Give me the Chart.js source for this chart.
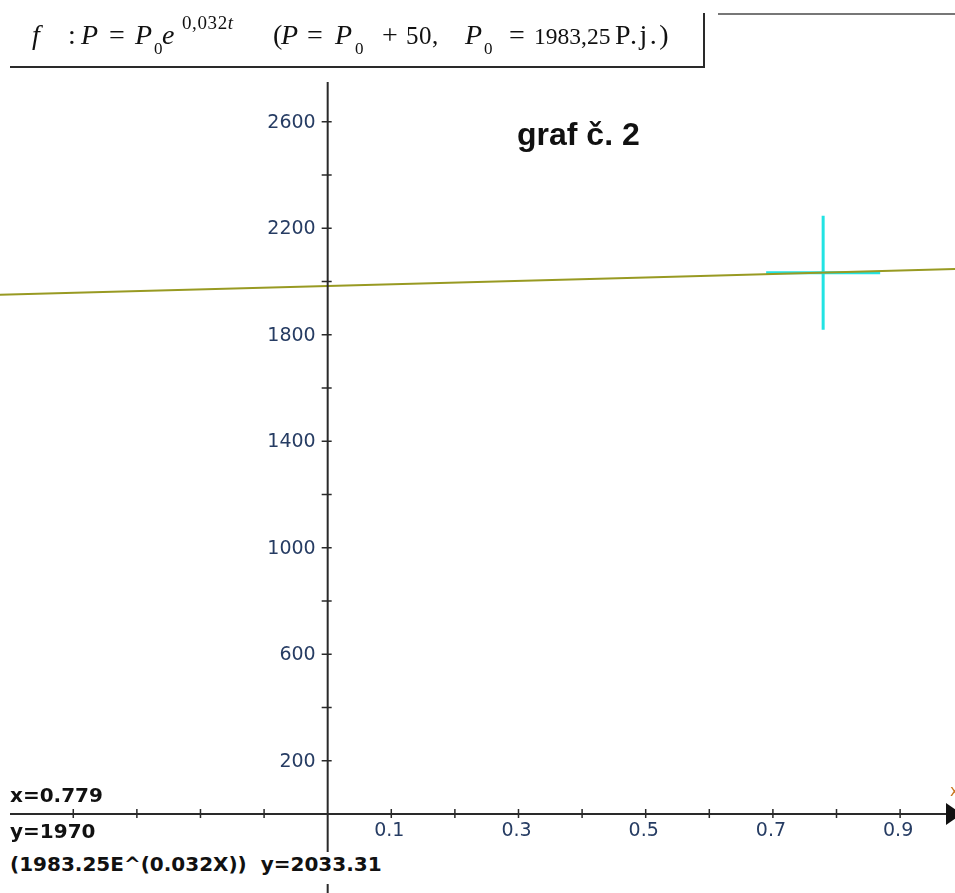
<!DOCTYPE html>
<html>
<head>
<meta charset="utf-8">
<script src="https://cdn.jsdelivr.net/npm/chart.js@4"></script>
<style>
  html, body { margin: 0; padding: 0; background: #fff; }
  #wrap { position: relative; width: 955px; height: 893px; overflow: hidden; }
  #c { position: absolute; left: 0; top: 0; }
  .txt { position: absolute; white-space: pre; color: #111; }
  #box { position: absolute; left: 10px; top: 13px; width: 693px; height: 53px;
         border-right: 2px solid #2a2a2a; border-bottom: 2px solid #2a2a2a; }
  #topline { position: absolute; left: 718px; top: 13px; width: 237px; border-top: 2px solid #777; }
  .f { top: 21px; font: 28px/28px "Liberation Serif", serif; }
  .n { top: 23px; font: 25px/25px "Liberation Serif", serif; }
  .sub { top: 40px; font: 17px/17px "Liberation Serif", serif; }
  .sup { top: 13px; font: 19px/19px "Liberation Serif", serif; letter-spacing: 0.6px; }
  #title { left: 517px; top: 118px; font: bold 32px/32px "Liberation Sans", Arial, sans-serif; }
  .read { left: 10px; font: bold 20px/20px "DejaVu Sans", sans-serif; }
  #rx { top: 785px; }
  #ry { top: 821px; }
  #rf { top: 852px; line-height: 25px; padding-bottom: 7px; background: #fff; }
</style>
</head>
<body>
<div id="wrap">
  <canvas id="c" width="955" height="893"></canvas>
  <div id="box"></div>
  <div id="topline"></div>
  <div class="txt f" style="left:32px"><i>f</i></div>
  <div class="txt f" style="left:68px">:</div>
  <div class="txt f" style="left:81px"><i>P</i></div>
  <div class="txt f" style="left:109px">=</div>
  <div class="txt f" style="left:135px"><i>P</i></div>
  <div class="txt sub" style="left:154px">0</div>
  <div class="txt f" style="left:162px"><i>e</i></div>
  <div class="txt sup" style="left:182px">0,032<i>t</i></div>
  <div class="txt f" style="left:273px">(</div>
  <div class="txt f" style="left:281px"><i>P</i></div>
  <div class="txt f" style="left:307px">=</div>
  <div class="txt f" style="left:335px"><i>P</i></div>
  <div class="txt sub" style="left:355px">0</div>
  <div class="txt f" style="left:382px">+</div>
  <div class="txt n" style="left:406px;letter-spacing:0.5px">50,</div>
  <div class="txt f" style="left:465px"><i>P</i></div>
  <div class="txt sub" style="left:484px">0</div>
  <div class="txt f" style="left:509px">=</div>
  <div class="txt n" style="left:534px;top:24px;font-size:23.5px">1983,25</div>
  <div class="txt f" style="left:615px;letter-spacing:2.5px">P.j.)</div>
  <div class="txt" id="title">graf č. 2</div>
  <div class="txt read" id="rx"></div>
  <div class="txt read" id="ry"></div>
  <div class="txt read" id="rf"></div>
</div>
<script>
'use strict'

// curve
const curveX = [-0.52, 0, 0.5, 0.99]
const curveY = [1950, 1983, 2015, 2048]

// cursor reading
const cursorX = 0.779
const cursorY = 2033.31
const mouseY = 1970
const curveName = '(1983.25E^(0.032X))'

// axis ticks
const xTickMarks = [-0.4, -0.3, -0.2, -0.1, 0.1, 0.2, 0.3, 0.4, 0.5, 0.6, 0.7, 0.8, 0.9]
const xTickLabels = ['0.1', '0.3', '0.5', '0.7', '0.9']
const yTickMarks = [200, 400, 600, 800, 1000, 1200, 1400, 1600, 1800, 2000, 2200, 2400, 2600]
const yTickLabels = ['200', '600', '1000', '1400', '1800', '2200', '2600']

document.getElementById('rx').textContent = 'x=' + cursorX
document.getElementById('ry').textContent = 'y=' + mouseY
document.getElementById('rf').textContent = curveName + '  y=' + cursorY

const axesPlugin = {
  id: 'crossAxes',
  afterDatasetsDraw(chart) {
    const ctx = chart.ctx
    const sx = chart.scales.x
    const sy = chart.scales.y
    const x0 = sx.getPixelForValue(0)
    const y0 = sy.getPixelForValue(0)
    ctx.save()
    ctx.strokeStyle = '#2a2a2a'
    ctx.lineWidth = 2
    ctx.beginPath()
    ctx.moveTo(10, y0); ctx.lineTo(950, y0)
    ctx.moveTo(x0, 82); ctx.lineTo(x0, 893)
    ctx.stroke()

    // arrow at the end of x axis
    ctx.fillStyle = '#111'
    ctx.beginPath()
    ctx.moveTo(946, y0 - 11); ctx.lineTo(962, y0); ctx.lineTo(946, y0 + 11)
    ctx.closePath(); ctx.fill()

    ctx.lineWidth = 1.5
    ctx.beginPath()
    xTickMarks.forEach(v => {
      const p = sx.getPixelForValue(v)
      ctx.moveTo(p, y0 - 5); ctx.lineTo(p, y0 + 4)
    })
    yTickMarks.forEach(v => {
      const p = sy.getPixelForValue(v)
      ctx.moveTo(x0 - 6, p); ctx.lineTo(x0 + 4, p)
    })
    ctx.stroke()

    ctx.fillStyle = '#263c63'
    ctx.font = '19px "DejaVu Sans", sans-serif'
    ctx.textBaseline = 'middle'
    ctx.textAlign = 'center'
    xTickLabels.forEach(l => {
      ctx.fillText(l, sx.getPixelForValue(Number(l)) - 2, y0 + 17)
    })
    ctx.textAlign = 'right'
    yTickLabels.forEach(l => {
      ctx.fillText(l, x0 - 12, sy.getPixelForValue(Number(l)) + 1)
    })

    ctx.fillStyle = '#c8741e'
    ctx.font = '15px "DejaVu Sans", sans-serif'
    ctx.textAlign = 'left'
    ctx.fillText('x', 950, 792)
    ctx.restore()
  }
}

const ctx = document.getElementById('c')

new Chart(ctx, {
  type: 'scatter',
  data: {
    datasets: [{
      data: curveX.map((x, i) => ({x: x, y: curveY[i]})),
      showLine: true,
      borderColor: '#989a22',
      borderWidth: 2,
      pointRadius: 0,
      order: 0
    }, {
      data: [{x: cursorX, y: cursorY}],
      pointStyle: 'cross',
      pointRadius: 57,
      pointBorderWidth: 3,
      pointBorderColor: '#22e3e3',
      borderColor: '#22e3e3',
      order: 1
    }]
  },
  options: {
    responsive: false,
    animation: false,
    events: [],
    layout: { padding: 0, autoPadding: false },
    plugins: { legend: { display: false }, tooltip: { enabled: false } },
    scales: {
      x: { type: 'linear', min: -0.5152, max: 0.9863, display: false },
      y: { type: 'linear', min: -296.8, max: 3057.8, display: false }
    }
  },
  plugins: [axesPlugin]
})
</script>
</body>
</html>
